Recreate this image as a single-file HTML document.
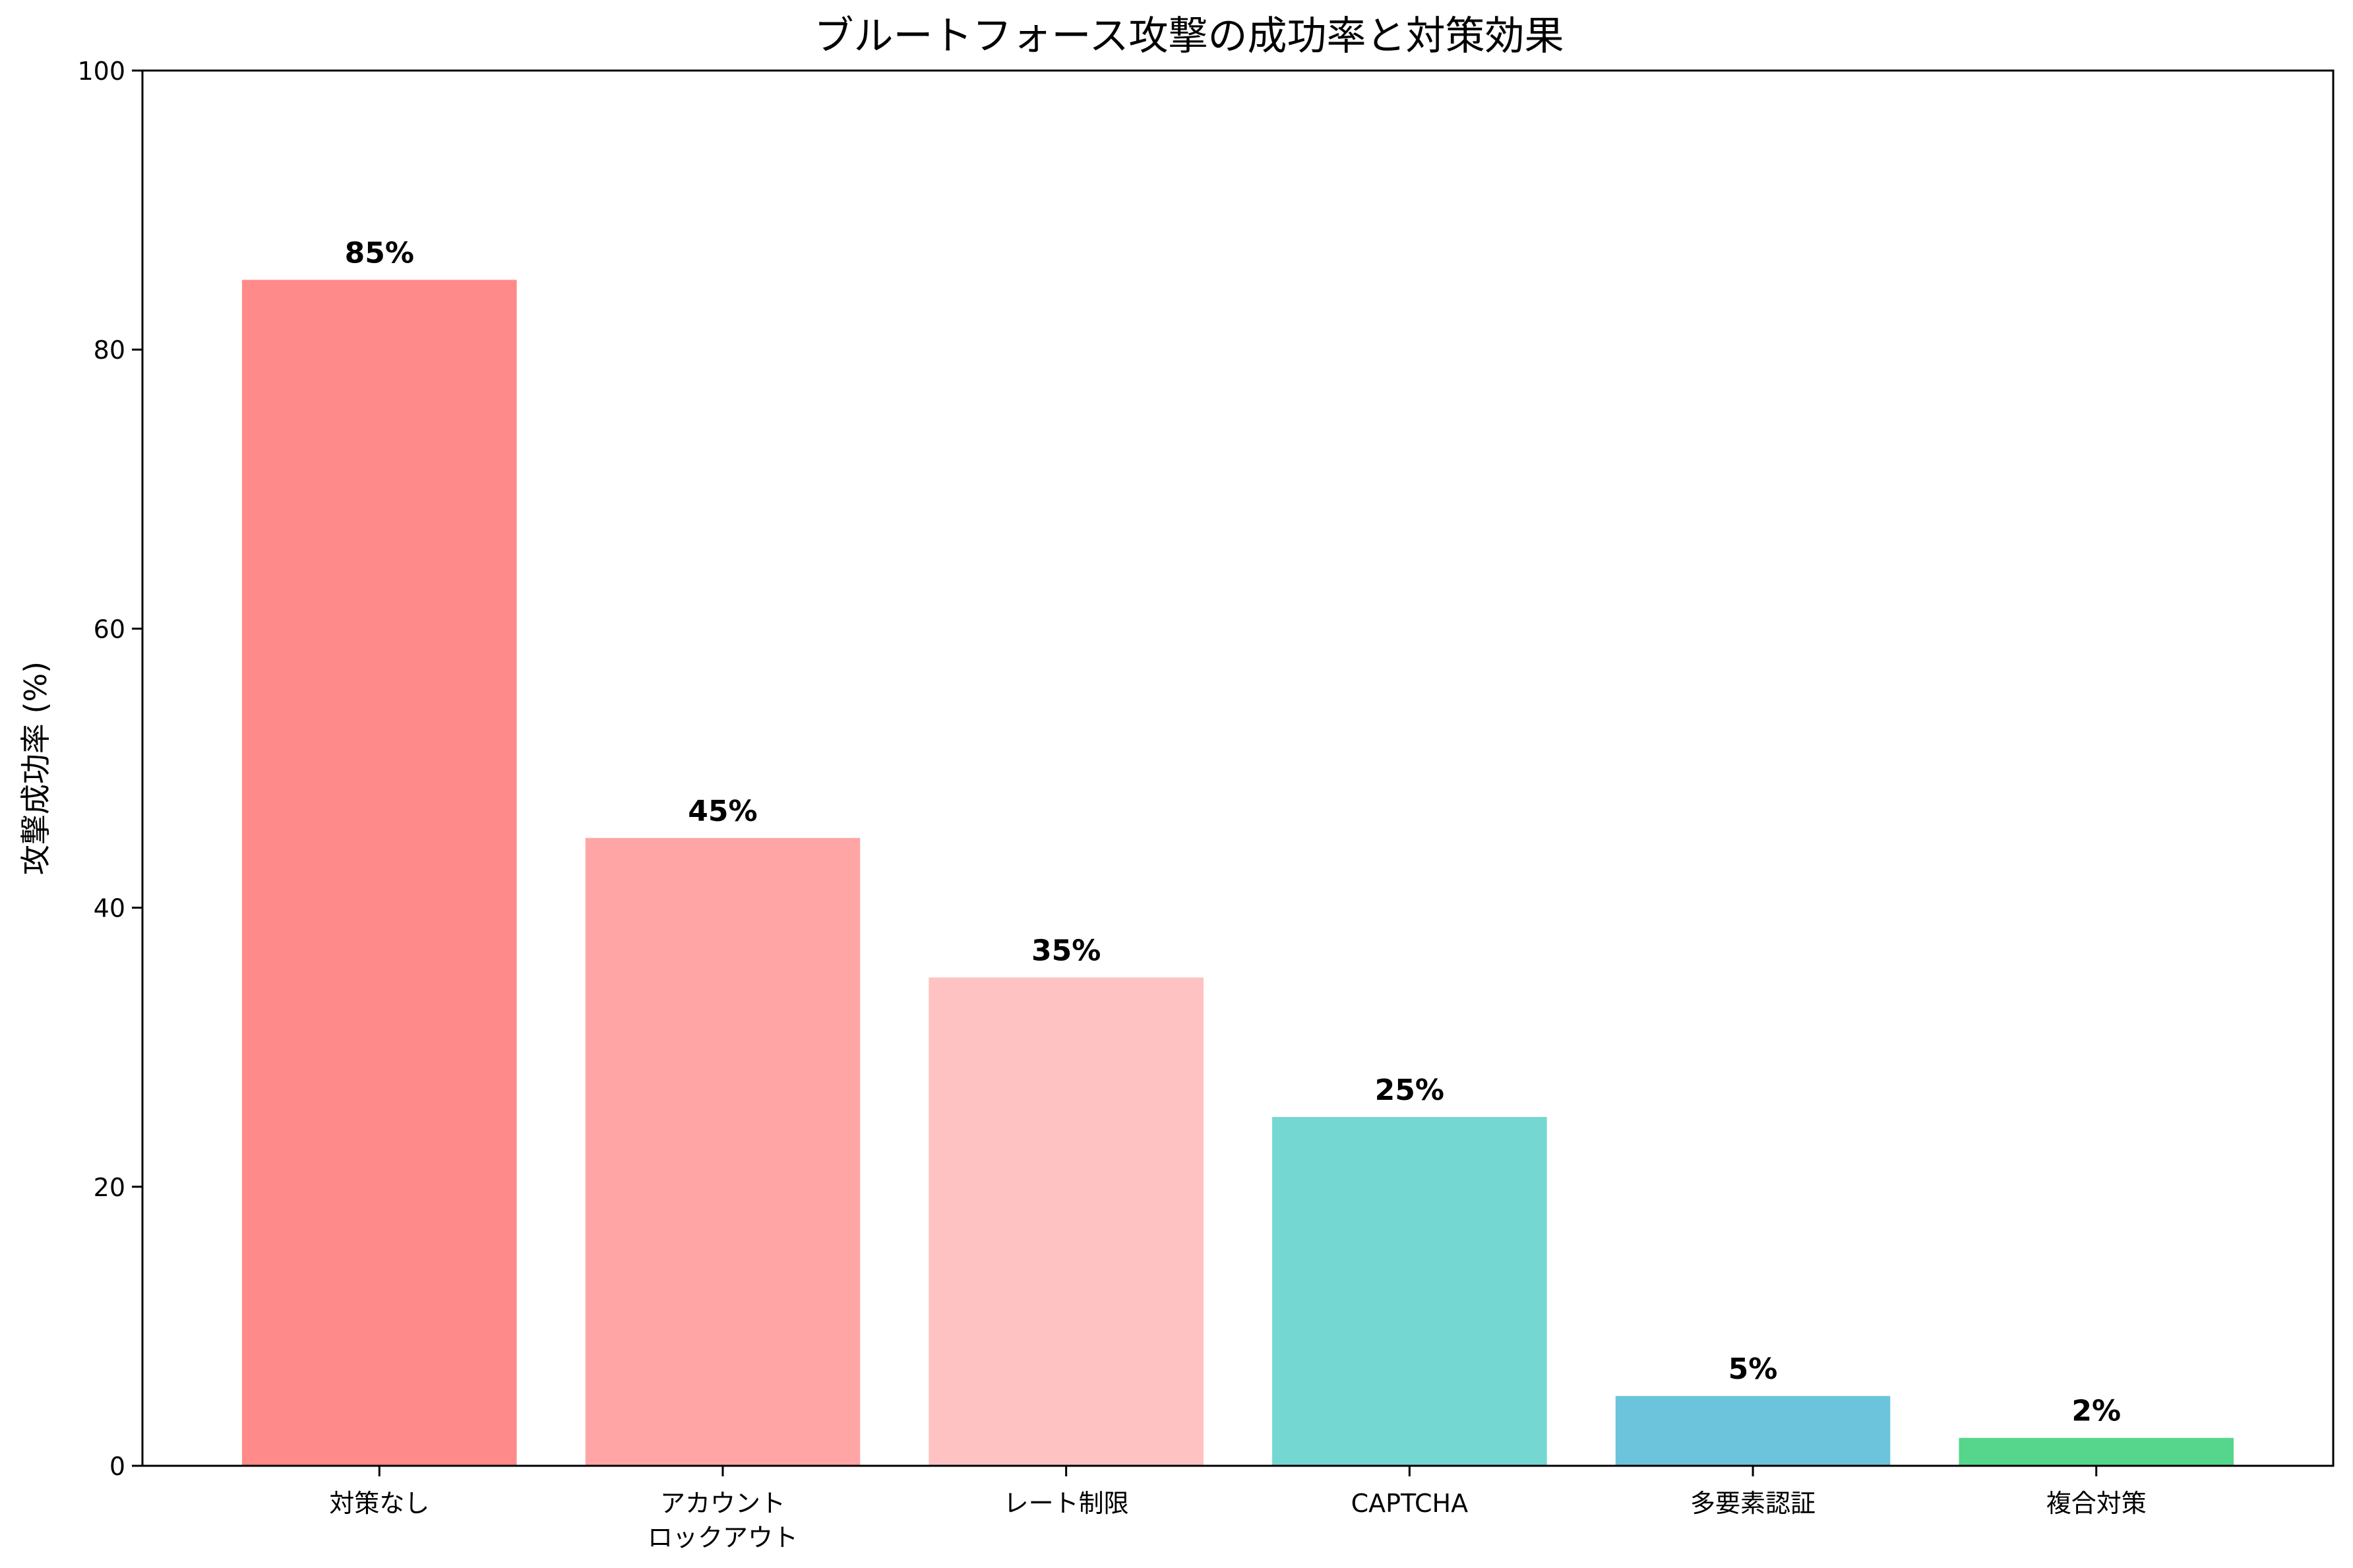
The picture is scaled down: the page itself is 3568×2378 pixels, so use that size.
<!DOCTYPE html>
<html><head><meta charset="utf-8"><style>
html,body{margin:0;padding:0;background:#fff}
svg{display:block}
text{font-family:"DejaVu Sans","Liberation Sans","Noto Sans CJK JP",sans-serif;fill:#000}
</style></head><body>
<svg id="chart" width="3568" height="2378" viewBox="0 0 3568 2378">
<text x="1803" y="75" font-size="60" text-anchor="middle">ブルートフォース攻撃の成功率と対策効果</text>
<text transform="translate(70,1165) rotate(-90)" font-size="46" text-anchor="middle">攻撃成功率 (%)</text>
<g id="bars"></g><g id="yticks"></g><g id="xticks"></g>
<rect x="216" y="107" width="3322" height="2116" fill="none" stroke="#000" stroke-width="3"/>
</svg>
<script>
const categories = [["対策なし"],["アカウント","ロックアウト"],["レート制限"],["CAPTCHA"],["多要素認証"],["複合対策"]];
const values = [85,45,35,25,5,2];
const colors = ["#FF8A8A","#FFA5A5","#FEC2C2","#74D7D2","#6BC4DB","#55D68C"];
const yTicks = [0,20,40,60,80,100];
const L=216,R=3538,T=107,B=2223,xmin=-0.69,xmax=5.69;
const xs=i=>L+(i-xmin)/(xmax-xmin)*(R-L);
const ys=v=>B-v/100*(B-T);
const NS="http://www.w3.org/2000/svg";
function mk(tag,attrs,parent){const e=document.createElementNS(NS,tag);for(const k in attrs)e.setAttribute(k,attrs[k]);parent.appendChild(e);return e;}
const gb=document.getElementById('bars'),gy=document.getElementById('yticks'),gx=document.getElementById('xticks');
const unit=(R-L)/(xmax-xmin);
values.forEach((v,i)=>{
  const r=mk('rect',{x:xs(i)-0.4*unit,y:ys(v),width:0.8*unit,height:B-ys(v),fill:colors[i]},gb);
  
  
  const t=mk('text',{x:xs(i),y:ys(v)-26,'font-size':44,'font-weight':'bold','text-anchor':'middle'},gb);
  t.textContent=v+'%';
  
  
  const tk=mk('line',{x1:xs(i),x2:xs(i),y1:B,y2:B+16,stroke:'#000','stroke-width':3},gx);
  
  
  categories[i].forEach((s,j)=>{
    const lt=mk('text',{x:xs(i),y:B+70+j*52,'font-size':38,'text-anchor':'middle'},gx);
    lt.textContent=s;
    
    
  });
});
yTicks.forEach(v=>{
  const tk=mk('line',{x1:L-16,x2:L,y1:ys(v),y2:ys(v),stroke:'#000','stroke-width':3},gy);
  
  
  const t=mk('text',{x:L-26,y:ys(v)+14,'font-size':38,'text-anchor':'end'},gy);
  t.textContent=v;
  
  
});
</script>
</body></html>
